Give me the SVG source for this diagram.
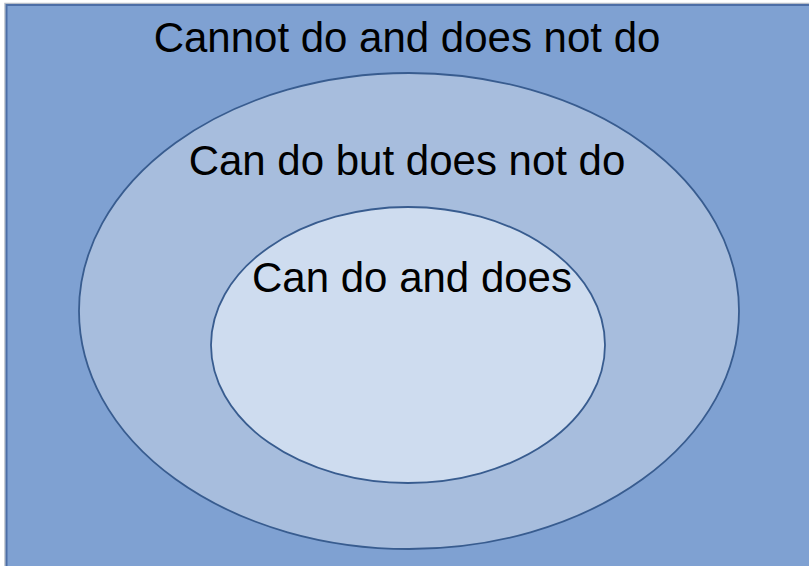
<svg xmlns="http://www.w3.org/2000/svg" width="809" height="566" viewBox="0 0 809 566">
<style>
.lbl{font-family:"Liberation Sans",Arial,sans-serif;font-size:42px;fill:#000;text-anchor:middle}
.ell{stroke:#385c8f;stroke-width:1.8}
</style>
<rect x="0" y="0" width="809" height="566" fill="#ffffff"/>
<g id="outer">
<rect x="5" y="3.5" width="810" height="570" fill="none" stroke="#b8bec8" stroke-width="1.5"/>
<rect x="6.5" y="5" width="810" height="570" fill="#7fa1d2" stroke="#4c6ea6" stroke-width="2"/>
<text class="lbl" x="407" y="52">Cannot do and does not do</text>
</g>
<g id="middle">
<ellipse class="ell" cx="409" cy="311" rx="330" ry="238" fill="#a7bddd"/>
<text class="lbl" x="407" y="175">Can do but does not do</text>
</g>
<g id="inner">
<ellipse class="ell" cx="408" cy="345" rx="197" ry="138" fill="#cedcef"/>
<text class="lbl" x="412" y="292">Can do and does</text>
</g>
<g id="connectors"/>
</svg>
